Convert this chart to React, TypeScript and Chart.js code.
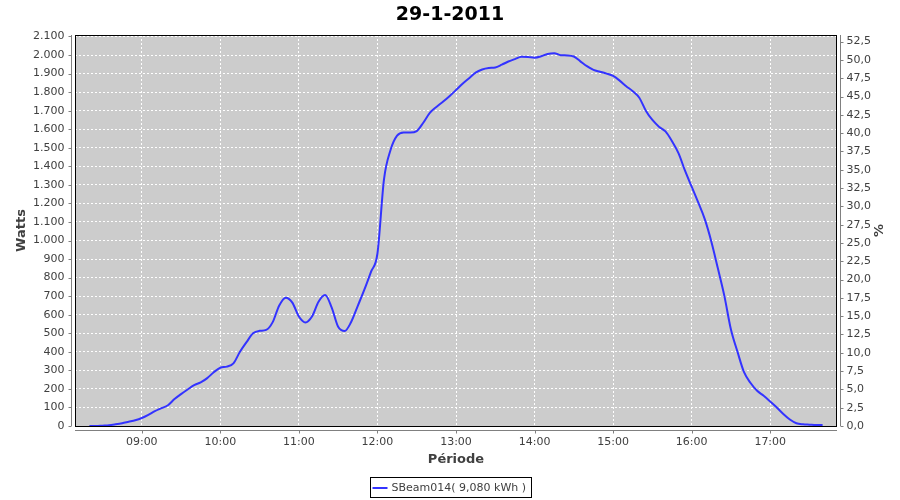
import React, { useEffect, useRef } from "react";
import { Chart, registerables } from "chart.js";

Chart.register(...registerables);

const chartTitle = "29-1-2011";
const seriesName = "SBeam014( 9,080 kWh )";
const xTitle = "Période";
const yTitle = "Watts";
const y2Title = "%";

const times = [
  "08:20", "08:25", "08:30", "08:35", "08:40", "08:45", "08:50", "08:55",
  "09:00", "09:05", "09:10", "09:15", "09:20", "09:25", "09:30", "09:35", "09:40", "09:45", "09:50", "09:55",
  "10:00", "10:05", "10:10", "10:15", "10:20", "10:25", "10:30", "10:35", "10:40", "10:45", "10:50", "10:55",
  "11:00", "11:05", "11:10", "11:15", "11:20", "11:25", "11:30", "11:35", "11:40", "11:45", "11:50", "11:55",
  "12:00", "12:05", "12:10", "12:15", "12:20", "12:25", "12:30", "12:35", "12:40", "12:45", "12:50", "12:55",
  "13:00", "13:05", "13:10", "13:15", "13:20", "13:25", "13:30", "13:35", "13:40", "13:45", "13:50", "13:55",
  "14:00", "14:05", "14:10", "14:15", "14:20", "14:25", "14:30", "14:35", "14:40", "14:45", "14:50", "14:55",
  "15:00", "15:05", "15:10", "15:15", "15:20", "15:25", "15:30", "15:35", "15:40", "15:45", "15:50", "15:55",
  "16:00", "16:05", "16:10", "16:15", "16:20", "16:25", "16:30", "16:35", "16:40", "16:45", "16:50", "16:55",
  "17:00", "17:05", "17:10", "17:15", "17:20", "17:25", "17:30", "17:35", "17:40",
];

const watts = [
  0, 0, 2, 4, 9, 15, 23, 31,
  43, 60, 80, 96, 112, 145, 172, 197, 220, 235, 258, 290,
  314, 320, 338, 400, 452, 500, 513, 518, 560, 650, 692, 665,
  590, 558, 590, 670, 706, 640, 535, 512, 562, 648, 735, 830,
  930, 1330, 1488, 1565, 1582, 1582, 1590, 1635, 1688, 1720, 1748, 1778,
  1811, 1845, 1875, 1905, 1922, 1930, 1933, 1948, 1965, 1978, 1991, 1990,
  1986, 1993, 2006, 2010, 1999, 1998, 1992, 1966, 1940, 1920, 1910, 1900,
  1887, 1862, 1832, 1805, 1770, 1700, 1650, 1614, 1588, 1535, 1470, 1375,
  1290, 1205, 1115, 995, 850, 700, 520, 400, 290, 232, 190, 163,
  132, 100, 65, 35, 15, 9, 7, 5, 5,
];

const hourTicks = ["09:00", "10:00", "11:00", "12:00", "13:00", "14:00", "15:00", "16:00", "17:00"];
const wattTicks = [
  0, 100, 200, 300, 400, 500, 600, 700, 800, 900, 1000, 1100,
  1200, 1300, 1400, 1500, 1600, 1700, 1800, 1900, 2000, 2100,
];
const pctTicks = [
  0, 2.5, 5, 7.5, 10, 12.5, 15, 17.5, 20, 22.5, 25, 27.5,
  30, 32.5, 35, 37.5, 40, 42.5, 45, 47.5, 50, 52.5,
];

const xMinTime = "08:09";
const xMaxTime = "17:51";
const wattsMax = 2108;
const pctMax = 53.4;

const toMin = (s: string) => {
  const [h, m] = s.split(":").map(Number);
  return h * 60 + m;
};
const fmtTime = (v: number) => {
  const h = Math.floor(v / 60);
  const m = Math.round(v - h * 60);
  return String(h).padStart(2, "0") + ":" + String(m).padStart(2, "0");
};
const fmtWatts = (v: number) =>
  String(Math.round(v)).replace(/\B(?=(\d{3})+(?!\d))/g, ".");
const fmtPct = (v: number) => v.toFixed(1).replace(".", ",");

const FONT = "'DejaVu Sans', sans-serif";
const DARK = "#404040";
const AXIS = "#808080";

const framePlugin = {
  id: "frame",
  beforeDraw(chart: any) {
    const { ctx, chartArea: a } = chart;
    ctx.save();
    ctx.fillStyle = "#ffffff";
    ctx.fillRect(0, 0, chart.width, chart.height);
    ctx.fillStyle = "#cccccc";
    ctx.fillRect(a.left, a.top, a.right - a.left, a.bottom - a.top);
    ctx.restore();
  },
  afterDraw(chart: any) {
    const { ctx, chartArea: a } = chart;
    const sx = chart.scales.x;
    const sy = chart.scales.y;
    const sy2 = chart.scales.y1;
    ctx.save();
    ctx.strokeStyle = "#000000";
    ctx.lineWidth = 1;
    ctx.strokeRect(a.left + 0.5, a.top + 0.5, a.right - a.left - 1, a.bottom - a.top);
    ctx.strokeStyle = AXIS;
    ctx.beginPath();
    const lx = a.left - 3.5;
    ctx.moveTo(lx, a.top);
    ctx.lineTo(lx, a.bottom);
    sy.ticks.forEach((t: any) => {
      const py = Math.round(sy.getPixelForValue(t.value)) + 0.5;
      ctx.moveTo(lx - 3, py);
      ctx.lineTo(lx, py);
    });
    const rx = a.right + 3.5;
    ctx.moveTo(rx, a.top);
    ctx.lineTo(rx, a.bottom);
    sy2.ticks.forEach((t: any) => {
      const py = Math.round(sy2.getPixelForValue(t.value)) + 0.5;
      ctx.moveTo(rx, py);
      ctx.lineTo(rx + 3, py);
    });
    const by = a.bottom + 4.5;
    ctx.moveTo(a.left, by);
    ctx.lineTo(a.right, by);
    sx.ticks.forEach((t: any) => {
      const px = Math.round(sx.getPixelForValue(t.value)) + 0.5;
      ctx.moveTo(px, by);
      ctx.lineTo(px, by + 3);
    });
    ctx.stroke();

    ctx.fillStyle = "#000000";
    ctx.font = "bold 19px " + FONT;
    ctx.textAlign = "center";
    ctx.textBaseline = "middle";
    ctx.fillText(chartTitle, chart.width / 2, 15);

    ctx.fillStyle = DARK;
    ctx.font = "bold 13px " + FONT;
    ctx.fillText(xTitle, (a.left + a.right) / 2, 460);
    ctx.save();
    ctx.translate(22, (a.top + a.bottom) / 2);
    ctx.rotate(-Math.PI / 2);
    ctx.fillText(yTitle, 0, 0);
    ctx.restore();
    ctx.save();
    ctx.translate(880, (a.top + a.bottom) / 2);
    ctx.rotate(-Math.PI / 2);
    ctx.fillText(y2Title, 0, 0);
    ctx.restore();

    ctx.font = "11px " + FONT;
    const tw = ctx.measureText(seriesName).width;
    const bw = Math.round(2 + 15 + 5 + tw + 4);
    const bx = Math.round(chart.width / 2 - bw / 2) + 0.5;
    const byy = 477.5;
    ctx.strokeStyle = "#000000";
    ctx.lineWidth = 1;
    ctx.strokeRect(bx, byy, bw, 20);
    ctx.strokeStyle = "#3333ff";
    ctx.lineWidth = 2;
    ctx.beginPath();
    ctx.moveTo(bx + 2, 488);
    ctx.lineTo(bx + 17, 488);
    ctx.stroke();
    ctx.fillStyle = DARK;
    ctx.textAlign = "left";
    ctx.textBaseline = "middle";
    ctx.fillText(seriesName, bx + 21, 488);
    ctx.restore();
  },
};

export default function App() {
  const ref = useRef<HTMLCanvasElement>(null);
  useEffect(() => {
    document.body.style.margin = "0";
    const data = times.map((t, i) => ({ x: toMin(t), y: watts[i] }));
    const tickFont = { family: FONT, size: 11 };
    const chart = new Chart(ref.current!, {
      type: "line",
      data: {
        datasets: [
          {
            label: seriesName,
            data,
            borderColor: "#3333ff",
            borderWidth: 2,
            pointRadius: 0,
            cubicInterpolationMode: "monotone",
            fill: false,
            yAxisID: "y",
          },
        ],
      },
      options: {
        animation: false,
        responsive: false,
        devicePixelRatio: 1,
        layout: { padding: { top: 35, left: 0, right: 0, bottom: 0 } },
        plugins: { legend: { display: false }, title: { display: false }, tooltip: { enabled: false } },
        scales: {
          x: {
            type: "linear",
            min: toMin(xMinTime),
            max: toMin(xMaxTime),
            afterBuildTicks: (s: any) => {
              s.ticks = hourTicks.map((h) => ({ value: toMin(h) }));
            },
            afterFit: (s: any) => {
              s.height = 74;
            },
            ticks: {
              autoSkip: false,
              maxRotation: 0,
              padding: 10,
              color: DARK,
              font: tickFont,
              callback: (v: any) => fmtTime(Number(v)),
            },
            grid: { color: "#ffffff", lineWidth: 1, drawTicks: false },
            border: { display: false, dash: [2, 2] },
          },
          y: {
            type: "linear",
            position: "left",
            min: 0,
            max: wattsMax,
            afterBuildTicks: (s: any) => {
              s.ticks = wattTicks.map((v) => ({ value: v }));
            },
            afterFit: (s: any) => {
              s.width = 75;
            },
            ticks: {
              autoSkip: false,
              padding: 10.5,
              color: DARK,
              font: tickFont,
              callback: (v: any) => fmtWatts(Number(v)),
            },
            grid: { color: "#ffffff", lineWidth: 1, drawTicks: false },
            border: { display: false, dash: [2, 2] },
          },
          y1: {
            type: "linear",
            position: "right",
            min: 0,
            max: pctMax,
            afterBuildTicks: (s: any) => {
              s.ticks = pctTicks.map((v) => ({ value: v }));
            },
            afterFit: (s: any) => {
              s.width = 63;
            },
            ticks: {
              autoSkip: false,
              padding: 9.5,
              color: DARK,
              font: tickFont,
              callback: (v: any) => fmtPct(Number(v)),
            },
            grid: { display: false, drawTicks: false },
            border: { display: false },
          },
        },
      },
      plugins: [framePlugin],
    });
    return () => chart.destroy();
  }, []);
  return (
    <div style={{ width: 900, height: 500 }}>
      <canvas ref={ref} width={900} height={500} />
    </div>
  );
}
